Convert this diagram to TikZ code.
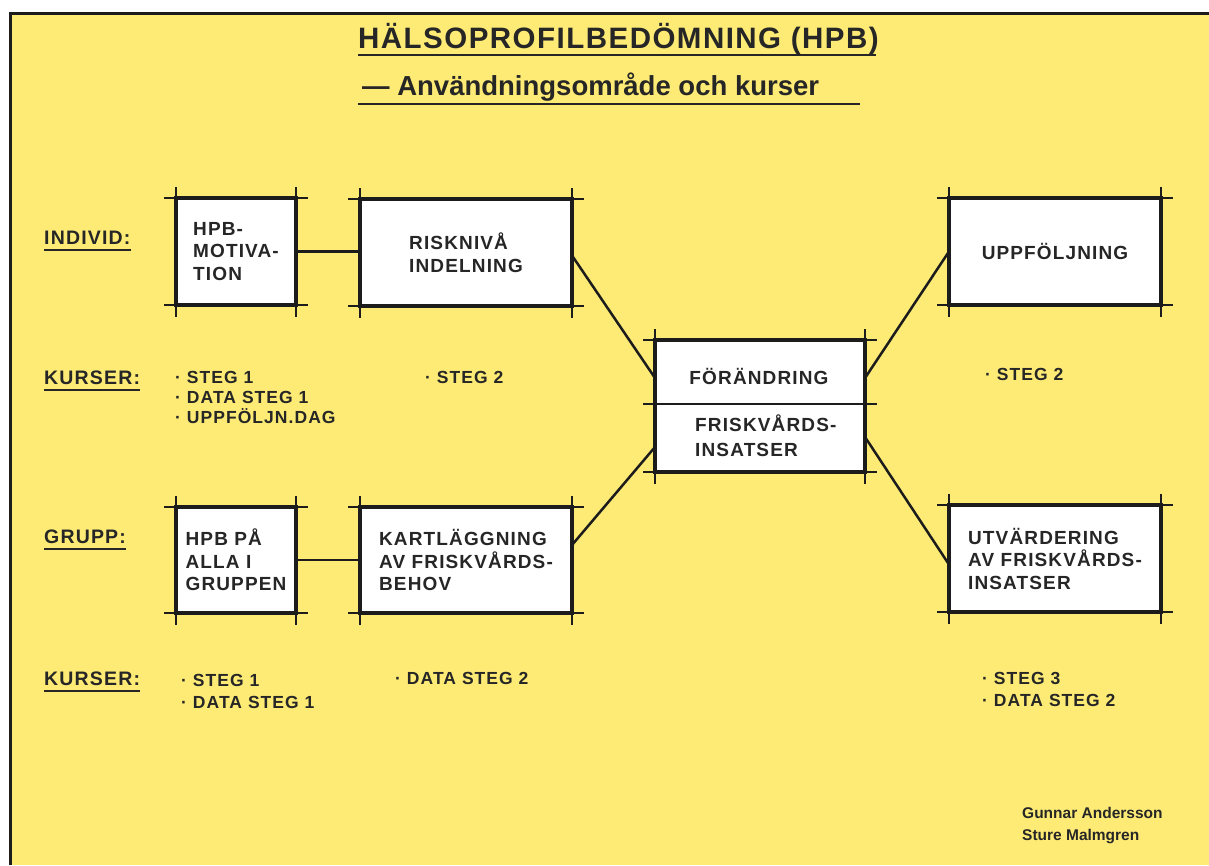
\documentclass[tikz,border=0pt]{standalone}
\usepackage{fontspec}
\setmainfont{Liberation Sans}
\newfontfamily\spaced[LetterSpace=6]{Liberation Sans}
\newfontfamily\titlefont[LetterSpace=5]{Liberation Sans}
\definecolor{paper}{HTML}{FDEB76}
\definecolor{ink}{HTML}{262626}
\definecolor{pen}{HTML}{1C1C1C}

% thin construction lines running past the corners of a box
\newcommand\boxstubs[1]{%
  \draw[stub] ([xshift=-12pt]#1.north west) -- ([xshift=12pt]#1.north east)
              ([xshift=-12pt]#1.south west) -- ([xshift=12pt]#1.south east)
              ([yshift=11pt]#1.north west) -- ([yshift=-12pt]#1.south west)
              ([yshift=11pt]#1.north east) -- ([yshift=-12pt]#1.south east);}

\begin{document}
\begin{tikzpicture}[x=1pt,y=-1pt,
  box/.style={draw=pen, line width=3.2pt, fill=white, rectangle,
              inner sep=0pt, outer sep=0pt, align=left, text=ink,
              font=\spaced\bfseries\fontsize{19}{22.5}\selectfont},
  stub/.style={draw=pen, line width=1.1pt},
  conn/.style={draw=pen, line width=2.5pt, line cap=round},
  lab/.style={anchor=base west, inner sep=0pt, text=ink,
              font=\spaced\bfseries\fontsize{19.5}{22}\selectfont},
  course/.style={anchor=base west, inner sep=0pt, text=ink, align=left,
              font=\spaced\bfseries\fontsize{17.5}{20}\selectfont},
  uline/.style={draw=ink, line width=2pt}]

\useasboundingbox (0,0) rectangle (1209,865);
\fill[white] (0,0) rectangle (1209,865);
\fill[paper] (10,13) rectangle (1209,865);
\draw[pen, line width=3pt] (10,865) -- (10,13) -- (1209,13);

% heading
\node[anchor=base west, inner sep=0pt, text=ink,
      font=\titlefont\bfseries\fontsize{29.5}{30}\selectfont] (title) at (358,48)
  {HÄLSOPROFILBEDÖMNING (HPB)};
\node[anchor=base west, inner sep=0pt, text=ink,
      font=\bfseries\fontsize{27.5}{30}\selectfont] (sub) at (362,95)
  {— Användningsområde och kurser};
\draw[uline] (358,55) -- (876,55);
\draw[uline, line width=1.6pt] (358,104) -- (860,104);

% boxes
\node[box, minimum width=120pt, minimum height=107pt] (mot)  at (236,251.5) {HPB-\\MOTIVA-\\TION};
\node[box, minimum width=212pt, minimum height=107pt] (risk) at (466,252.5) {RISKNIVÅ\\INDELNING};
\node[box, minimum width=212pt, minimum height=107pt] (uppf) at (1055,251.5) {UPPFÖLJNING};
\node[box, minimum width=210pt, minimum height=132pt] (cen)  at (760,406) {};
\node[box, minimum width=120pt, minimum height=106pt] (alla) at (236,560) {HPB PÅ\\ALLA I\\GRUPPEN};
\node[box, minimum width=212pt, minimum height=106pt] (kart) at (466,560) {KARTLÄGGNING\\AV FRISKVÅRDS-\\BEHOV};
\node[box, minimum width=212pt, minimum height=107pt] (utv)  at (1055,558.5) {UTVÄRDERING\\AV FRISKVÅRDS-\\INSATSER};

\foreach \b in {mot,risk,uppf,cen,alla,kart,utv} {\boxstubs{\b}}

% divider of the centre box and its two texts
\draw[stub, line width=1.4pt] ([xshift=-12pt,yshift=-64pt]cen.north west) -- ([xshift=12pt,yshift=-64pt]cen.north east);
\node[anchor=base, inner sep=0pt, text=ink, font=\spaced\bfseries\fontsize{19}{22.5}\selectfont] (forand) at (759,384.5) {FÖRÄNDRING};
\node[anchor=base west, inner sep=0pt, text=ink, align=left,
      font=\spaced\bfseries\fontsize{19}{25}\selectfont] (insats) at (695,456.5) {FRISKVÅRDS-\\INSATSER};

% connectors
\draw[conn] (mot.east) -- (mot.east -| risk.west);
\draw[conn] (alla.east) -- (alla.east -| kart.west);
\draw[conn] ([yshift=-3pt]risk.east) -- ([yshift=-38pt]cen.north west);
\draw[conn] ([yshift=15pt]kart.east) -- ([yshift=25pt]cen.south west);
\draw[conn] (uppf.west) -- ([yshift=-38pt]cen.north east);
\draw[conn] ([yshift=-6pt]utv.west) -- ([yshift=35pt]cen.south east);

% row labels
\node[lab] (individ) at (44,244) {INDIVID:};
\node[lab] (kurs1) at (44,384) {KURSER:};
\node[lab] (grupp) at (44,543) {GRUPP:};
\node[lab] (kurs2) at (44,685) {KURSER:};
\foreach \n in {individ,kurs1,grupp,kurs2}
  {\draw[uline] ([yshift=-6pt]\n.base west) -- ([yshift=-6pt]\n.base east);}

% course lists (multi-line nodes sit on the baseline of their last line)
\node[course] (c1) at (175,423.5) {· STEG 1\\· DATA STEG 1\\· UPPFÖLJN.DAG};
\node[course] (c2) at (425,383) {· STEG 2};
\node[course] (c3) at (985,380) {· STEG 2};
\node[course, font=\spaced\bfseries\fontsize{17.5}{22}\selectfont] (c4) at (181,708) {· STEG 1\\· DATA STEG 1};
\node[course] (c5) at (395,684) {· DATA STEG 2};
\node[course, font=\spaced\bfseries\fontsize{17.5}{22}\selectfont] (c6) at (982,706) {· STEG 3\\· DATA STEG 2};

% authors
\node[anchor=base west, inner sep=0pt, text=ink, align=left,
      font=\bfseries\fontsize{15.5}{22}\selectfont] (auth) at (1022,840.5)
  {Gunnar Andersson\\Sture Malmgren};
\end{tikzpicture}
\end{document}
